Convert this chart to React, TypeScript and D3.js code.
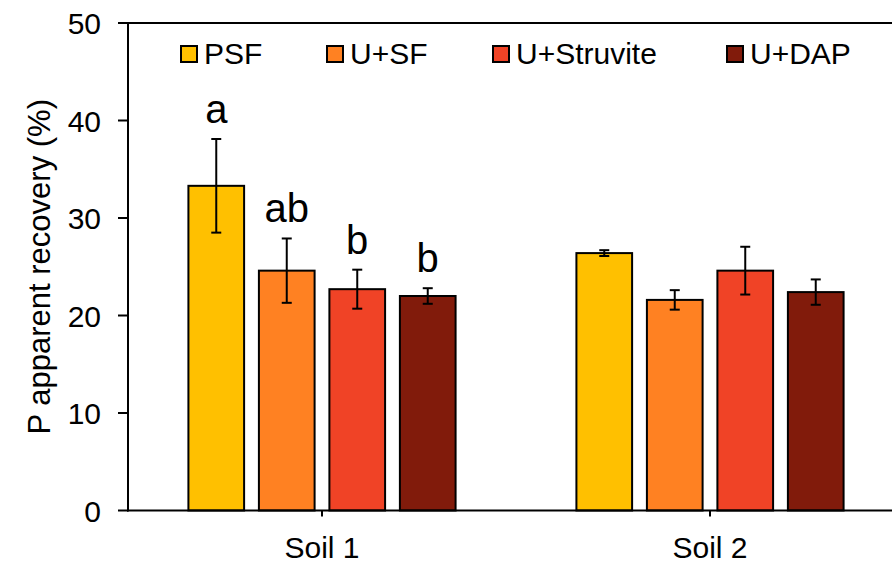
import React from "react";
import * as d3 from "d3";

const categories = ["Soil 1", "Soil 2"];
const seriesNames = ["PSF", "U+SF", "U+Struvite", "U+DAP"];
const seriesColors = ["#FFC000", "#FF8122", "#F04326", "#811B0B"];
// values[series][category]
const psfValues = [33.3, 26.4];
const usfValues = [24.6, 21.6];
const struviteValues = [22.7, 24.6];
const dapValues = [22.0, 22.4];
const psfErrors = [4.8, 0.3];
const usfErrors = [3.3, 1.0];
const struviteErrors = [2.0, 2.45];
const dapErrors = [0.8, 1.3];
const soil1Letters = ["a", "ab", "b", "b"];
const yTicks = [0, 10, 20, 30, 40, 50];

const values = [psfValues, usfValues, struviteValues, dapValues];
const errors = [psfErrors, usfErrors, struviteErrors, dapErrors];
const letters = [soil1Letters, ["", "", "", ""]];

const W = 892;
const H = 564;
const left = 128;
const right = 904;
const top = 23;
const bottom = 510.5;
const FONT = "Arial, 'Liberation Sans', sans-serif";
const legendX = [180, 326, 492, 726];

export default function App() {
  const x0 = d3.scaleBand<string>().domain(categories).range([left, right]).paddingInner(0).paddingOuter(0);
  const x1 = d3
    .scaleBand<string>()
    .domain(seriesNames)
    .range([0, x0.bandwidth()])
    .paddingInner(0.21)
    .paddingOuter(0.857);
  const y = d3.scaleLinear().domain([0, 50]).range([bottom, top]);
  const capW = 10;

  return (
    <svg width={W} height={H} style={{ position: "absolute", left: 0, top: 0, background: "#fff" }} fontFamily={FONT}>
      <rect x={0} y={0} width={W} height={H} fill="#fff" />
      {/* bars */}
      {categories.map((c, ci) =>
        seriesNames.map((s, si) => {
          const bx = (x0(c) as number) + (x1(s) as number);
          const v = values[si][ci];
          const e = errors[si][ci];
          const cx = bx + x1.bandwidth() / 2;
          return (
            <g key={c + s}>
              <rect
                x={bx}
                y={y(v)}
                width={x1.bandwidth()}
                height={y(0) - y(v)}
                fill={seriesColors[si]}
                stroke="#000"
                strokeWidth={2}
              />
              <line x1={cx} x2={cx} y1={y(v + e)} y2={y(v - e)} stroke="#000" strokeWidth={2} />
              <line x1={cx - capW / 2} x2={cx + capW / 2} y1={y(v + e)} y2={y(v + e)} stroke="#000" strokeWidth={2} />
              <line x1={cx - capW / 2} x2={cx + capW / 2} y1={y(v - e)} y2={y(v - e)} stroke="#000" strokeWidth={2} />
              {letters[ci][si] && (
                <text x={cx} y={y(v + e) - 16} textAnchor="middle" fontSize={40} fill="#000">
                  {letters[ci][si]}
                </text>
              )}
            </g>
          );
        })
      )}
      {/* axes */}
      <line x1={left} x2={W} y1={top} y2={top} stroke="#000" strokeWidth={2} />
      <line x1={left} x2={left} y1={top - 1} y2={bottom + 1} stroke="#000" strokeWidth={2} />
      <line x1={left - 1} x2={W} y1={bottom} y2={bottom} stroke="#000" strokeWidth={2} />
      {yTicks.map((t) => (
        <g key={t}>
          <line x1={left - 10} x2={left} y1={y(t)} y2={y(t)} stroke="#000" strokeWidth={2} />
          <text x={left - 27} y={y(t) + 11} textAnchor="end" fontSize={30} fill="#000">
            {t}
          </text>
        </g>
      ))}
      {categories.map((c) => {
        const cx = (x0(c) as number) + x0.bandwidth() / 2;
        return (
          <g key={c}>
            <line x1={cx} x2={cx} y1={bottom} y2={bottom + 6} stroke="#000" strokeWidth={2} />
            <text x={cx} y={558} textAnchor="middle" fontSize={30} fill="#000">
              {c}
            </text>
          </g>
        );
      })}
      <text
        transform={`translate(50,${(top + bottom) / 2}) rotate(-90)`}
        textAnchor="middle"
        fontSize={31}
        fill="#000"
      >
        P apparent recovery (%)
      </text>
      {/* legend */}
      {seriesNames.map((s, i) => (
        <g key={s}>
          <rect x={legendX[i] + 1} y={46} width={16} height={16} fill={seriesColors[i]} stroke="#000" strokeWidth={2} />
          <text x={legendX[i] + 24} y={63.5} fontSize={30} fill="#000">
            {s}
          </text>
        </g>
      ))}
    </svg>
  );
}
